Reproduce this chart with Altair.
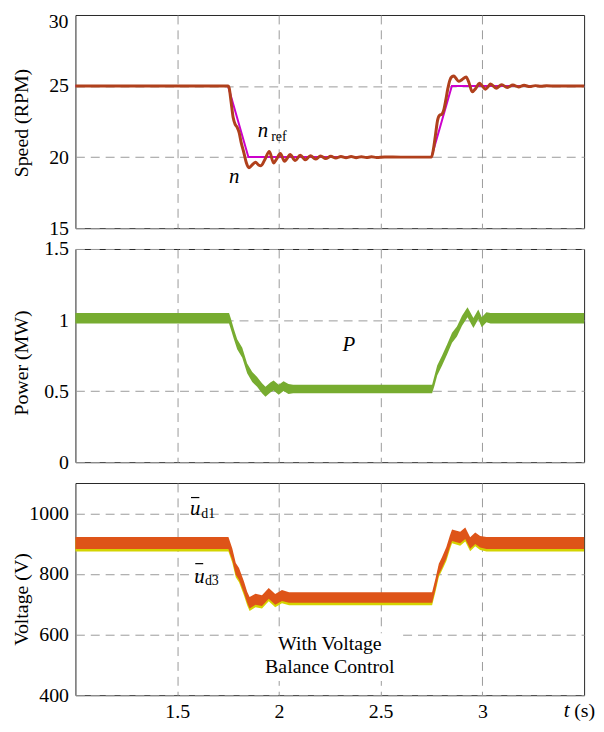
import altair as alt
import pandas as pd

FONT = "Liberation Serif"

# ---------------- shared time axis ----------------
T_DOMAIN = [1.0, 3.5]
T_TICKS = [1.5, 2, 2.5, 3]

# ---------------- Speed panel ----------------
ref_t = [1.0, 1.75, 1.85, 2.75, 2.85, 3.5]
ref_n = [25, 25, 20, 20, 25, 25]

n_t = [1.0, 1.75, 1.755, 1.765, 1.775, 1.785, 1.795, 1.805, 1.815, 1.828, 1.84,
       1.853, 1.865, 1.885, 1.9, 1.912, 1.93, 1.953, 1.974, 1.99, 2.007, 2.028,
       2.04, 2.055, 2.08, 2.105, 2.13, 2.155, 2.18, 2.205, 2.23, 2.255, 2.28,
       2.305, 2.33, 2.355, 2.38, 2.405, 2.43, 2.455, 2.48, 2.52, 2.6, 2.75,
       2.76, 2.77, 2.78, 2.79, 2.80, 2.81, 2.82, 2.83, 2.84, 2.85, 2.86, 2.87,
       2.883, 2.9, 2.92, 2.935, 2.95, 2.968, 2.985, 3.0, 3.015, 3.028, 3.04,
       3.068, 3.095, 3.122, 3.15, 3.178, 3.205, 3.233, 3.26, 3.288, 3.315,
       3.36, 3.42, 3.5]
n_v = [25.0, 25.0, 24.9, 23.9, 22.8, 22.3, 22.1, 21.7, 21.0, 20.3, 19.6,
       19.25, 19.4, 19.64, 19.45, 19.4, 19.8, 20.39, 19.59, 19.9, 20.25, 19.7,
       19.9, 20.18, 19.76, 20.13, 19.82, 20.1, 19.86, 20.08, 19.9, 20.06, 19.93,
       20.05, 19.95, 20.04, 19.96, 20.03, 19.97, 20.02, 19.98, 20.01, 20.0, 20.0,
       20.6, 21.6, 22.6, 22.95, 23.0, 23.3, 24.0, 24.8, 25.4, 25.65, 25.7, 25.55,
       25.34, 25.45, 25.64, 25.2, 24.6, 24.85, 25.2, 25.0, 24.78, 24.95, 25.15,
       24.85, 25.1, 24.9, 25.07, 24.94, 25.05, 24.96, 25.03, 24.98, 25.02,
       25.0, 25.0, 25.0]

# ---------------- Power panel ----------------
p_t = [1.0, 1.755, 1.765, 1.779, 1.795, 1.82, 1.844, 1.869, 1.893, 1.917,
       1.934, 1.958, 1.974, 1.999, 2.023, 2.047, 2.07, 2.753, 2.765, 2.778,
       2.802, 2.827, 2.851, 2.875, 2.9, 2.927, 2.956, 2.98, 2.997, 3.02, 3.04,
       3.5]
p_lo = [0.975, 0.975, 0.93, 0.865, 0.795, 0.735, 0.625, 0.565, 0.53, 0.485,
        0.46, 0.49, 0.505, 0.475, 0.5, 0.48, 0.485, 0.485, 0.54, 0.61,
        0.68, 0.76, 0.84, 0.885, 0.96, 1.02, 0.945, 1.005, 0.95, 0.985, 0.975,
        0.975]
p_hi = [1.05, 1.05, 1.005, 0.935, 0.865, 0.805, 0.695, 0.635, 0.6, 0.555,
        0.53, 0.56, 0.575, 0.545, 0.57, 0.55, 0.545, 0.545, 0.61, 0.68,
        0.75, 0.83, 0.91, 0.955, 1.03, 1.09, 1.015, 1.075, 1.02, 1.055, 1.05,
        1.05]

# ---------------- Voltage panel ----------------
v_t = [1.0, 1.752, 1.771, 1.788, 1.804, 1.828, 1.844, 1.856, 1.885, 1.917,
       1.95, 1.982, 2.015, 2.05, 2.753, 2.77, 2.786, 2.802, 2.823, 2.84, 2.851,
       2.891, 2.916, 2.94, 2.965, 2.989, 3.02, 3.5]
d1_lo = [882, 882, 845, 797, 781, 738, 705, 686, 698, 694,
         718, 698, 711, 705, 705, 750, 798, 820, 851, 888, 909,
         901, 915, 883, 899, 887, 882, 882]
d1_hi = [922, 922, 884, 836, 820, 776, 741, 724, 735, 730,
         754, 734, 747, 740, 740, 786, 834, 856, 889, 926, 947,
         939, 953, 921, 937, 925, 922, 922]
d3_lo = [874, 874, 837, 789, 773, 730, 697, 678, 690, 686,
         710, 690, 703, 697, 697, 742, 790, 812, 843, 880, 901,
         893, 907, 875, 891, 879, 874, 874]
d3_hi = [914, 914, 876, 828, 812, 768, 733, 716, 727, 722,
         746, 726, 739, 732, 732, 778, 826, 848, 881, 918, 939,
         931, 945, 913, 929, 917, 914, 914]

# ---------------- tick labels ----------------
sp_ticks = [15, 20, 25]
sp_top_label = ["30"]
sp_top_x = [0.966]
sp_top_y = [29.5]
pw_ticks = [0, 0.5, 1, 1.5]
vo_grid = [400, 500, 600, 700, 800, 900, 1000]

# ---------------- annotations ----------------
sp_it_txt = ["n", "n"]
sp_it_x = [1.896, 1.755]
sp_it_y = [21.39, 18.17]
sp_sub_txt = ["ref"]
sp_sub_x = [1.962]
sp_sub_y = [21.12]

pw_txt = ["P"]
pw_x = [2.312]
pw_y = [0.781]

vo_it_txt = ["u", "u", "t"]
vo_it_x = [1.563, 1.5845, 3.40]
vo_it_y = [993.6, 771, 329]
vo_sub_txt = ["d1", "d3"]
vo_sub_x = [1.619, 1.6365]
vo_sub_y = [984, 763]
vo_bar_x = [1.568, 1.589]
vo_bar_x2 = [1.609, 1.628]
vo_bar_y = [1052, 834]
vo_txt = ["With Voltage", "Balance Control", "(s)"]
vo_txt_x = [2.2503, 2.2503, 3.451]
vo_txt_y = [550.7, 472, 329]
vo_txt_align = ["center", "center", "left"]
box_x = [1.915]
box_x2 = [2.585]
box_y = [447]
box_y2 = [604]

W = 513
H1, H2, H3 = 215, 215, 214
GAP = 21

C_REF = "#CC00CC"
C_N = "#B0401C"
C_P = "#77AC30"
C_D1 = "#DE5418"
C_D3 = "#D4D400"

TSCALE = alt.Scale(domain=T_DOMAIN, nice=False, zero=False)


def xenc(show_labels):
    return alt.X(
        "t:Q", scale=TSCALE,
        axis=alt.Axis(values=T_TICKS, labels=show_labels, title=None, grid=True,
                      ticks=False, domain=False, format="~g", labelPadding=6),
    )


def yaxis(values, title, title_dy, height, fmt="~g", label_expr=None):
    kw = dict(values=values, title=title, grid=True, ticks=False, domain=False,
              format=fmt, labelPadding=7, titleX=-54, titleY=height / 2 + title_dy,
              titleAngle=-90, titleBaseline="middle", titleAlign="center",
              titlePadding=0)
    if label_expr is not None:
        kw["labelExpr"] = label_expr
    return alt.Axis(**kw)


def text_layer(df, style, size, align="left", yscale=None, baseline="alphabetic"):
    return alt.Chart(df).mark_text(
        align=align, baseline=baseline, font=FONT, fontStyle=style,
        fontSize=size, color="black"
    ).encode(x=alt.X("t:Q", scale=TSCALE), y=alt.Y("v:Q", scale=yscale), text="s:N")


# ---------- speed ----------
sp_scale = alt.Scale(domain=[15, 30], nice=False, zero=False)
ref_df = pd.DataFrame({"t": ref_t, "v": ref_n})
n_df = pd.DataFrame({"t": n_t, "v": n_v})
ref_line = alt.Chart(ref_df).mark_line(color=C_REF, strokeWidth=2).encode(
    x=xenc(False),
    y=alt.Y("v:Q", scale=sp_scale,
            axis=yaxis(sp_ticks, "Speed (RPM)", 1, H1)))
n_line = alt.Chart(n_df).mark_line(color=C_N, strokeWidth=3, interpolate="monotone").encode(
    x=xenc(False), y=alt.Y("v:Q", scale=sp_scale))
sp_top = text_layer(pd.DataFrame({"t": sp_top_x, "v": sp_top_y, "s": sp_top_label}),
                    "normal", 20, align="right", yscale=sp_scale, baseline="middle")
sp_it = text_layer(pd.DataFrame({"t": sp_it_x, "v": sp_it_y, "s": sp_it_txt}),
                   "italic", 21, yscale=sp_scale)
sp_sub = text_layer(pd.DataFrame({"t": sp_sub_x, "v": sp_sub_y, "s": sp_sub_txt}),
                    "normal", 14, yscale=sp_scale)
speed = alt.layer(ref_line, n_line, sp_top, sp_it, sp_sub).properties(width=W, height=H1)

# ---------- power ----------
pw_scale = alt.Scale(domain=[0, 1.5], nice=False, zero=False)
p_df = pd.DataFrame({"t": p_t, "lo": p_lo, "hi": p_hi})
p_area = alt.Chart(p_df).mark_area(color=C_P, opacity=1).encode(
    x=xenc(False),
    y=alt.Y("lo:Q", scale=pw_scale,
            axis=yaxis(pw_ticks, "Power (MW)", 7, H2)),
    y2="hi:Q")
pw_txt_l = text_layer(pd.DataFrame({"t": pw_x, "v": pw_y, "s": pw_txt}),
                      "italic", 21, yscale=pw_scale)
power = alt.layer(p_area, pw_txt_l).properties(width=W, height=H2)

# ---------- voltage ----------
vo_scale = alt.Scale(domain=[400, 1100], nice=False, zero=False)
v_df = pd.DataFrame({"t": v_t, "lo1": d1_lo, "hi1": d1_hi, "lo3": d3_lo, "hi3": d3_hi})
d3_area = alt.Chart(v_df).mark_area(color=C_D3, opacity=1).encode(
    x=xenc(True),
    y=alt.Y("lo3:Q", scale=vo_scale,
            axis=yaxis(vo_grid, "Voltage (V)", 10, H3, fmt="d",
                       label_expr="datum.value % 200 == 0 ? datum.label : ''")),
    y2="hi3:Q")
d1_area = alt.Chart(v_df).mark_area(color=C_D1, opacity=1).encode(
    x=xenc(True), y=alt.Y("lo1:Q", scale=vo_scale), y2="hi1:Q")
box = alt.Chart(pd.DataFrame({"t": box_x, "t2": box_x2, "v": box_y, "v2": box_y2})).mark_rect(
    color="white").encode(
    x=alt.X("t:Q", scale=TSCALE), x2="t2:Q",
    y=alt.Y("v:Q", scale=vo_scale), y2="v2:Q")
bars = alt.Chart(pd.DataFrame({"t": vo_bar_x, "t2": vo_bar_x2, "v": vo_bar_y})).mark_rule(
    color="black", strokeWidth=1.2).encode(
    x=alt.X("t:Q", scale=TSCALE), x2="t2:Q",
    y=alt.Y("v:Q", scale=vo_scale))
vo_it = text_layer(pd.DataFrame({"t": vo_it_x, "v": vo_it_y, "s": vo_it_txt}),
                   "italic", 21, yscale=vo_scale)
vo_sub = text_layer(pd.DataFrame({"t": vo_sub_x, "v": vo_sub_y, "s": vo_sub_txt}),
                    "normal", 14, yscale=vo_scale)
vo_df = pd.DataFrame({"t": vo_txt_x, "v": vo_txt_y, "s": vo_txt, "a": vo_txt_align})
vo_center = text_layer(vo_df[vo_df.a == "center"], "normal", 20, align="center", yscale=vo_scale)
vo_left = text_layer(vo_df[vo_df.a == "left"], "normal", 20, align="left", yscale=vo_scale)
voltage = alt.layer(box, d3_area, d1_area, bars, vo_it, vo_sub, vo_center, vo_left).properties(
    width=W, height=H3)

chart = alt.vconcat(speed, power, voltage, spacing=GAP, bounds="flush",
                    padding={"left": 3, "top": 0, "right": 0, "bottom": 0}).configure_view(
    stroke="#262626", strokeWidth=1
).configure_axis(
    labelFont=FONT, titleFont=FONT, labelFontSize=20, titleFontSize=20,
    titleFontWeight="normal", labelColor="black", titleColor="black",
    gridColor="#9a9a9a", gridDash=[9, 6], gridWidth=1
)

chart.save("out.html", embed_options={"renderer": "svg", "actions": False})
